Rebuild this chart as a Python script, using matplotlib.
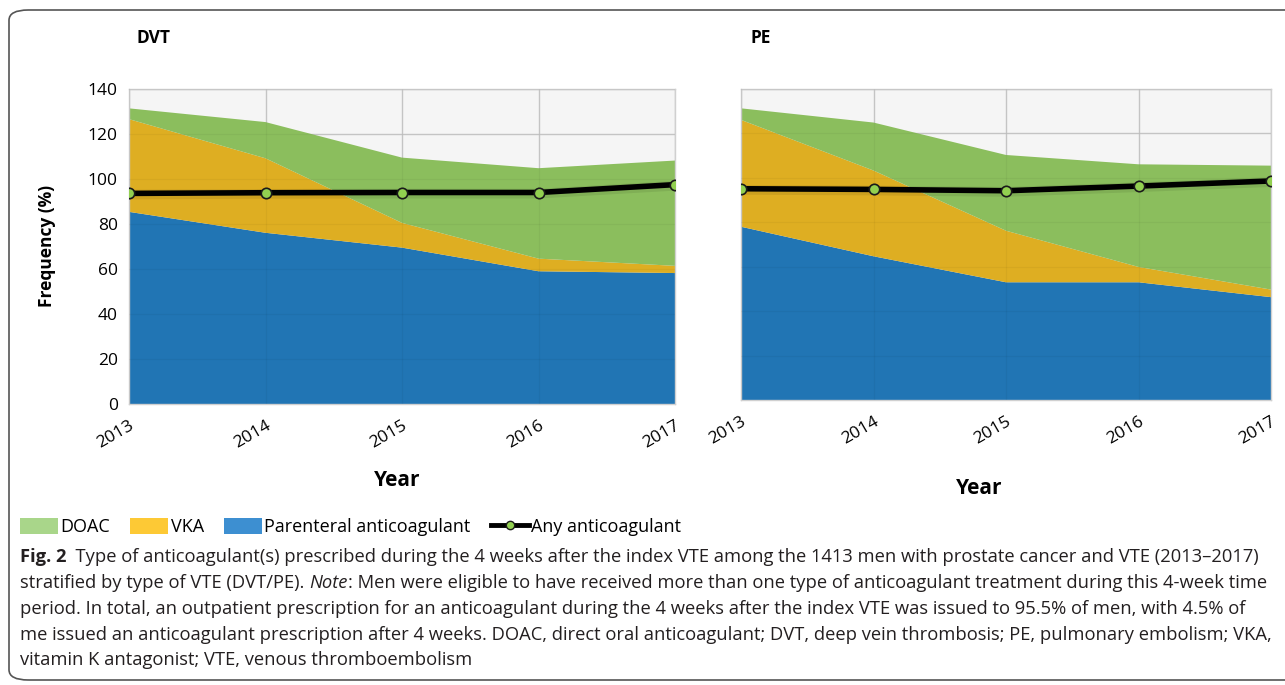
import matplotlib
matplotlib.use("Agg")
import matplotlib.pyplot as plt
from matplotlib.patches import FancyBboxPatch, Patch
from matplotlib.lines import Line2D

years = [2013, 2014, 2015, 2016, 2017]
year_labels = ["2013", "2014", "2015", "2016", "2017"]

dvt_parenteral = [85.4, 76.1, 69.5, 59.0, 58.2]
dvt_vka = [41.2, 33.1, 11.0, 5.6, 3.2]
dvt_doac = [4.8, 16.1, 29.0, 40.2, 46.8]
dvt_any = [93.6, 93.9, 94.0, 94.0, 97.5]

pe_parenteral = [78.0, 64.7, 53.0, 53.0, 46.3]
pe_vka = [48.1, 38.6, 23.2, 6.9, 3.4]
pe_doac = [5.2, 21.6, 34.1, 46.2, 55.8]
pe_any = [95.1, 94.8, 94.2, 96.3, 98.6]

yticks = [0, 20, 40, 60, 80, 100, 120, 140]

C_BLUE = "#2175b4"
C_YEL = "#deae22"
C_GRN = "#8bbe5d"
L_BLUE = "#3d8fd1"
L_YEL = "#fdc935"
L_GRN = "#a9d68a"
MK = "#92d050"

W, H = 1285, 685
fig = plt.figure(figsize=(W / 100, H / 100), dpi=100)
FONT = "Open Sans"


def fx(px):
    return px / W


def fy(py):
    return 1 - py / H


def draw(ax, parenteral, vka, doac, anyv, show_y):
    ax.set_facecolor("#f5f5f5")
    ax.stackplot(years, parenteral, vka, doac, colors=[C_BLUE, C_YEL, C_GRN],
                 linewidth=0, zorder=2)
    for yv in yticks[1:]:
        ax.axhline(yv, color="#cccccc", lw=1.0, zorder=1)
        ax.axhline(yv, color="#000000", lw=0.8, alpha=0.04, zorder=3)
    for xv in years:
        ax.axvline(xv, color="#cccccc", lw=1.0, zorder=1)
        ax.axvline(xv, color="#000000", lw=0.8, alpha=0.04, zorder=3)
    ax.plot(years, [a - 0.5 for a in anyv], color="#000000", lw=7, alpha=0.08,
            zorder=4, solid_capstyle="round")
    ax.plot(years, anyv, color="#000000", lw=4, marker="o", markersize=7.5,
            markerfacecolor=MK, markeredgecolor="#1a1a1a", markeredgewidth=1.2,
            zorder=5)
    ax.set_xlim(2013, 2017)
    ax.set_ylim(0, 140)
    ax.set_yticks(yticks)
    ax.set_xticks(years)
    ax.set_xticklabels(year_labels, rotation=30, ha="right",
                       rotation_mode="anchor", fontsize=12.5, family=FONT)
    if show_y:
        ax.set_yticklabels([str(v) for v in yticks], fontsize=12.5, family=FONT)
    else:
        ax.set_yticklabels([])
    ax.tick_params(length=0, pad=8)
    ax.tick_params(axis="x", pad=10)
    for s in ax.spines.values():
        s.set_color("#d0d0d0")
        s.set_linewidth(1.0)


ax1 = fig.add_axes([fx(129), fy(404), fx(675 - 129), (404 - 89) / H])
ax2 = fig.add_axes([fx(741), fy(400), fx(1271 - 741), (400 - 89) / H])
draw(ax1, dvt_parenteral, dvt_vka, dvt_doac, dvt_any, True)
draw(ax2, pe_parenteral, pe_vka, pe_doac, pe_any, False)

fig.text(fx(136), fy(38), "DVT", fontsize=12.5, fontweight="bold", family=FONT,
         va="center", ha="left")
fig.text(fx(750), fy(38), "PE", fontsize=12.5, fontweight="bold", family=FONT,
         va="center", ha="left")
fig.text(fx(47), fy(246), "Frequency (%)", rotation=90, fontsize=12.5,
         fontweight="bold", family=FONT, va="center", ha="center")
fig.text(fx(397), fy(481), "Year", fontsize=15, fontweight="bold", family=FONT,
         va="center", ha="center")
fig.text(fx(979), fy(488), "Year", fontsize=15, fontweight="bold", family=FONT,
         va="center", ha="center")

# border
border = FancyBboxPatch((fx(9), fy(680)), fx(1400 - 9), (680 - 10) / H,
                        boxstyle="round,pad=0,rounding_size=0.015",
                        transform=fig.transFigure, fill=False,
                        edgecolor="#555555", lw=1.2, zorder=0)
fig.add_artist(border)

handles = [
    Patch(facecolor=L_GRN, edgecolor="none"),
    Patch(facecolor=L_YEL, edgecolor="none"),
    Patch(facecolor=L_BLUE, edgecolor="none"),
    Line2D([0], [0], color="black", lw=3.5, marker="o", markersize=6,
           markerfacecolor=MK, markeredgecolor="#1a1a1a"),
]
labels = ["DOAC", "VKA", "Parenteral anticoagulant", "Any anticoagulant"]
fig.legend(handles, labels, loc="center left", bbox_to_anchor=(fx(20), fy(527)),
           ncol=4, frameon=False, handlelength=2.1, handleheight=1.0,
           handletextpad=0.15, columnspacing=1.1, borderpad=0, borderaxespad=0,
           prop={"family": FONT, "size": 13})

# caption
fig.canvas.draw()
renderer = fig.canvas.get_renderer()
CAP = 13.2


def put_line(pieces, x0, y):
    x = x0
    for txt, kw in pieces:
        t = fig.text(x, y, txt, fontsize=CAP, family=FONT, va="center",
                     ha="left", color="#231f20", **kw)
        bb = t.get_window_extent(renderer=renderer)
        x = x + bb.width / W


X0 = fx(20)
put_line([("Fig. 2", {"fontweight": "bold"}),
          ("  Type of anticoagulant(s) prescribed during the 4 weeks after the index VTE among the 1413 men with prostate cancer and VTE (2013\u20132017)", {})],
         X0, fy(557))
put_line([("stratified by type of VTE (DVT/PE). ", {}),
          ("Note", {"style": "italic"}),
          (": Men were eligible to have received more than one type of anticoagulant treatment during this 4-week time", {})],
         X0, fy(583))
put_line([("period. In total, an outpatient prescription for an anticoagulant during the 4 weeks after the index VTE was issued to 95.5% of men, with 4.5% of", {})],
         X0, fy(609))
put_line([("me issued an anticoagulant prescription after 4 weeks. DOAC, direct oral anticoagulant; DVT, deep vein thrombosis; PE, pulmonary embolism; VKA,", {})],
         X0, fy(635))
put_line([("vitamin K antagonist; VTE, venous thromboembolism", {})],
         X0, fy(660))

fig.savefig("out.png", dpi=100)
